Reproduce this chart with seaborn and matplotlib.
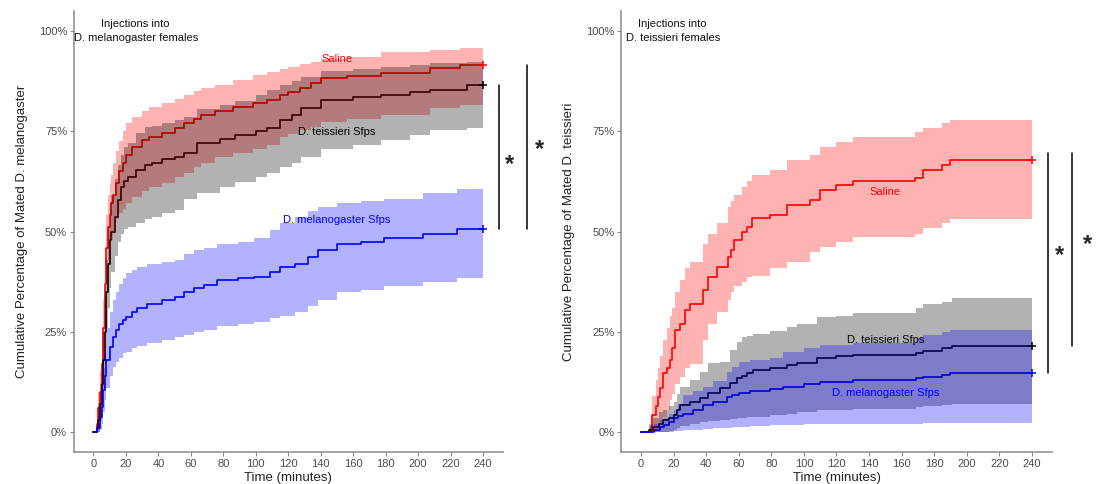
import numpy as np
import pandas as pd
import matplotlib
matplotlib.use("Agg")
import matplotlib.pyplot as plt
import seaborn as sns

# ---------------- data: cumulative % mated (estimate, lower CI, upper CI) ----------------
groups = ["Saline", "D. teissieri Sfps", "D. melanogaster Sfps"]
colors = {"Saline": "#FF0000", "D. teissieri Sfps": "#000000", "D. melanogaster Sfps": "#0000FF"}

# Injections into D. melanogaster females
mel_saline_t = [0, 2, 3, 4, 5, 6, 7, 8, 9, 10, 11, 12, 14, 16, 18, 20, 24, 30, 34, 42, 50, 56, 62, 66,
                75, 86, 98, 107, 115, 120, 127, 134, 140, 156, 177, 207, 226, 240]
mel_saline_est = [0, 2, 6, 10, 17, 26, 37, 46, 51, 54, 57, 59, 62, 65, 67, 69, 71, 72.8, 73.5, 74.5, 75.7,
                  77, 78, 79, 80, 81, 82, 82.8, 84, 84.7, 85.7, 87, 88.2, 88.8, 89.5, 90.7, 91.5, 91.5]
mel_saline_lo = [0, 0, 2, 5, 11, 19, 29, 38, 43, 46, 48, 50, 53, 54.5, 55.5, 57, 58.5, 60, 61, 62, 63.5,
                 64.5, 66, 67, 68.5, 69.5, 70.5, 71.5, 73.5, 74.3, 75.3, 76, 77.2, 78, 79, 80.8, 81.5, 81.5]
mel_saline_hi = [0, 4, 10, 15, 23, 33, 44, 54, 59, 62, 64, 67, 70, 72.5, 75, 77, 78.6, 80, 81, 82, 83,
                 84, 85, 85.7, 86.5, 87.8, 89, 89.8, 90.5, 91, 91.9, 92.3, 93, 93.6, 94.8, 95.3, 95.7, 95.7]

mel_teis_t = [0, 2, 3, 4, 5, 6, 7, 8, 9, 10, 11, 13, 15, 17, 19, 21, 26, 32, 36, 42, 50, 56, 64, 78,
              87, 100, 107, 115, 122, 128, 140, 160, 177, 195, 207, 230, 240]
mel_teis_est = [0, 1, 3, 7, 12, 18, 25, 35, 42, 48, 50, 53.7, 57.9, 61, 62.5, 63.7, 65.3, 66.6, 67, 68.2,
                68.7, 69.5, 72, 73, 74, 75, 75.7, 77.8, 79, 80.7, 82.8, 83.5, 84, 84.7, 85.3, 86.5, 86.5]
mel_teis_lo = [0, 0, 0, 3, 6, 11, 17, 26, 31, 36, 40, 44, 47.5, 49.5, 50.5, 51, 52, 53.2, 53.7, 54.5,
               55.4, 58, 59.5, 61, 62.3, 63.5, 64.5, 66, 67, 68.5, 70.5, 71.5, 72.8, 74, 75.3, 75.7, 75.7]
mel_teis_hi = [0, 3, 7, 12, 18, 25, 33, 43, 51, 57, 59, 63, 66.5, 69, 71, 72, 74.5, 76, 76.3, 77, 77.8,
               78.5, 80.5, 81.5, 82.5, 84, 85.3, 86.5, 87.5, 88.5, 90, 90.5, 91, 91.5, 92, 92.3, 92.3]

mel_mel_t = [0, 2, 4, 5, 6, 7, 8, 10, 12, 14, 16, 18, 20, 24, 27, 33, 42, 50, 56, 62, 68, 76, 89, 99,
             109, 115, 124, 132, 138, 150, 165, 179, 203, 224, 240]
mel_mel_est = [0, 1, 3.8, 6.3, 10.5, 14, 18, 21.3, 23.8, 25.5, 27, 28, 28.7, 29.8, 30.8, 32, 32.9, 33.7,
               35, 36, 36.7, 37.9, 38.3, 38.7, 40, 41.2, 42, 43.7, 45.4, 47, 47.5, 48.3, 49.5, 50.5, 50.5]
mel_mel_lo = [0, 0, 0.5, 2, 5, 8, 11, 14, 16.3, 17.5, 18.5, 19.6, 20, 21, 21.5, 22.3, 22.9, 23.7, 24.2,
              25, 25.5, 26.5, 27, 27.5, 28.5, 29, 30, 31.5, 33, 35, 35.4, 36.5, 37.5, 38.4, 38.4]
mel_mel_hi = [0, 2, 7, 10.5, 16, 20, 26, 30, 33, 35, 37, 38.5, 39.6, 40.5, 41.2, 42, 42.3, 43, 44.5,
              45.5, 46, 47, 47.5, 48.5, 50.4, 52, 53.5, 55, 56, 57, 57.5, 58, 59.5, 60.7, 60.7]

# Injections into D. teissieri females
tei_saline_t = [0, 6, 7, 9, 10.6, 12, 13.7, 16, 17.8, 19, 20.9, 24, 27, 30, 38, 41, 46.5, 53.6, 55, 57,
                62, 65, 68, 79, 89.4, 103.7, 110, 120, 130, 168, 173, 184.6, 190, 240]
tei_saline_est = [0, 1.3, 4.2, 6.5, 8.8, 11, 14.6, 16, 18, 21, 25.4, 27, 30.4, 32, 35.4, 38.7, 41.2, 43.7,
                  45.4, 47.9, 50, 51.2, 53.3, 54.1, 56.6, 57.9, 60.3, 61.6, 62.5, 63.3, 65.3, 66.6, 67.8, 67.8]
tei_saline_lo = [0, 0, 0, 0.5, 1.5, 2.5, 3.8, 5.5, 7.9, 9.5, 12, 13.8, 16, 17, 23, 27, 30, 33, 35, 36.5,
                 37.5, 38.7, 39, 40.8, 42.5, 45, 46.2, 47.5, 48.7, 49.5, 50.8, 52, 53, 53]
tei_saline_hi = [0, 4, 9, 13, 16, 19, 23, 26, 29, 31, 35, 38, 41, 42.5, 47, 49.5, 52, 56.2, 57.5, 59,
                 61, 62.5, 64, 65.3, 67.8, 69, 71, 72.3, 73.6, 74.9, 75.7, 77, 77.8, 77.8]

tei_teis_t = [0, 5, 7.5, 11, 13.7, 17, 20, 22, 24, 30, 36, 41.3, 48.5, 54.6, 58.7, 62, 65, 69, 79, 89.4,
              96, 108, 120, 130, 169, 173, 185, 191, 240]
tei_teis_est = [0, 0.6, 1.2, 2, 3, 3.6, 4.2, 5.5, 6.7, 7.5, 8.4, 9.6, 10.9, 12.1, 13.4, 14, 14.6, 15.5,
                15.9, 16.7, 17.1, 18.4, 19, 19.3, 19.8, 20.3, 20.9, 21.5, 21.5]
tei_teis_lo = [0, 0, 0, 0, 0, 0.3, 0.5, 1, 1.5, 2, 2.5, 2.8, 3, 3.3, 3.5, 3.6, 3.8, 3.8, 4.2, 4.6, 5,
               5.5, 5.5, 5.8, 6.3, 6.5, 6.8, 7, 7]
tei_teis_hi = [0, 2, 3.5, 5, 5.5, 6.5, 7.5, 9.5, 11.3, 13, 15, 17.1, 17.5, 20.4, 22.5, 23.8, 24, 24.5,
               25.3, 26.3, 27, 28.7, 29, 29.6, 30.8, 32, 32.5, 33.3, 33.3]

tei_mel_t = [0, 8, 12, 14, 17, 20, 23, 26, 32, 38, 44, 52.6, 56, 60, 67, 79, 87, 100, 110, 130, 169, 173,
             185, 190, 240]
tei_mel_est = [0, 0.6, 1.2, 1.8, 2.5, 3.4, 4, 4.6, 5.5, 6.7, 7.5, 8.8, 9.2, 9.6, 10.2, 10.6, 11.3, 12,
               12.5, 13, 13.4, 13.8, 14.2, 14.7, 14.7]
tei_mel_lo = [0, 0, 0, 0, 0, 0.2, 0.3, 0.4, 0.6, 0.8, 0.9, 1.1, 1.2, 1.3, 1.5, 1.7, 1.8, 2, 2, 2, 2.1,
              2.2, 2.2, 2.2, 2.2]
tei_mel_hi = [0, 2, 3, 3.4, 4.5, 5.5, 7, 9.2, 10.2, 11.3, 12.8, 15, 16.2, 17.5, 18, 18.5, 20, 21, 21.7,
              22.1, 23.4, 24.2, 25, 25.4, 25.4]

panels = [
    {
        "title": "Injections into\nD. melanogaster females",
        "title_x": 26,
        "ylabel": "Cumulative Percentage of Mated D. melanogaster",
        "curves": {
            "Saline": (mel_saline_t, mel_saline_est, mel_saline_lo, mel_saline_hi),
            "D. teissieri Sfps": (mel_teis_t, mel_teis_est, mel_teis_lo, mel_teis_hi),
            "D. melanogaster Sfps": (mel_mel_t, mel_mel_est, mel_mel_lo, mel_mel_hi),
        },
        "labels": {"Saline": 93, "D. teissieri Sfps": 74.8, "D. melanogaster Sfps": 52.9},
        # (x, y0, y1) significance brackets and star positions
        "brackets": [(250, 50.5, 86.5), (267, 50.5, 91.5)],
        "stars": [(256, 66.7), (274.5, 70.5)],
    },
    {
        "title": "Injections into\nD. teissieri females",
        "title_x": 19.5,
        "ylabel": "Cumulative Percentage of Mated D. teissieri",
        "curves": {
            "Saline": (tei_saline_t, tei_saline_est, tei_saline_lo, tei_saline_hi),
            "D. teissieri Sfps": (tei_teis_t, tei_teis_est, tei_teis_lo, tei_teis_hi),
            "D. melanogaster Sfps": (tei_mel_t, tei_mel_est, tei_mel_lo, tei_mel_hi),
        },
        "labels": {"Saline": 59.9, "D. teissieri Sfps": 22.9, "D. melanogaster Sfps": 9.8},
        "brackets": [(250, 14.7, 69.5), (264.5, 21.5, 69.5)],
        "stars": [(257, 44), (274, 46.8)],
    },
]

# ---------------- style ----------------
sns.set_theme(style="ticks")
plt.rcParams["font.family"] = ["Liberation Sans", "DejaVu Sans"]
plt.rcParams["axes.edgecolor"] = "#8a8a8a"
plt.rcParams["xtick.color"] = "#8a8a8a"
plt.rcParams["ytick.color"] = "#8a8a8a"

fig = plt.figure(figsize=(10.96, 4.84), dpi=100)
W, H = 1096, 484
axes_px = [(74, 502.6), (621.4, 1051.5)]
bottom_px, top_px = 452, 11

for (x0, x1), panel in zip(axes_px, panels):
    ax = fig.add_axes([x0 / W, 1 - bottom_px / H, (x1 - x0) / W, (bottom_px - top_px) / H])

    rows = []
    for g in groups:
        t, est, lo, hi = panel["curves"][g]
        for ti, ei in zip(t, est):
            rows.append({"time": ti, "pct": ei, "group": g})
    df = pd.DataFrame(rows)

    # step lines underneath the confidence ribbons
    sns.lineplot(data=df, x="time", y="pct", hue="group", hue_order=groups, palette=colors,
                 estimator=None, drawstyle="steps-post", linewidth=1.2, legend=False, ax=ax, zorder=1.5)

    for k, g in enumerate(groups):
        t, est, lo, hi = panel["curves"][g]
        ax.fill_between(t, lo, hi, step="post", color=colors[g], alpha=0.3, linewidth=0, zorder=2 + 0.1 * k)
        ax.plot([t[-1]], [est[-1]], marker="+", color=colors[g], markersize=6, mew=1.1, zorder=3)
        ax.text(150, panel["labels"][g], g, color=colors[g], fontsize=8, ha="center", va="center", zorder=4)

    ax.text(panel["title_x"], 100, panel["title"], fontsize=8, ha="center", va="center",
            color="#111111", linespacing=1.5)

    for bx, y0, y1 in panel["brackets"]:
        ax.plot([bx, bx], [y0, y1], color="black", linewidth=1.1, clip_on=False)
    for sx, sy in panel["stars"]:
        ax.text(sx, sy, "*", fontsize=17, fontweight="bold", ha="center", va="center", clip_on=False)

    ax.set_xlim(-12, 252)
    ax.set_ylim(-5, 105)
    ax.set_xticks(np.arange(0, 241, 20))
    ax.set_yticks([0, 25, 50, 75, 100])
    ax.set_yticklabels(["0%", "25%", "50%", "75%", "100%"])
    ax.tick_params(axis="both", labelsize=8, labelcolor="#4d4d4d", length=3, width=0.8, pad=2)
    ax.set_xlabel("Time (minutes)", fontsize=9.5, color="#222222", labelpad=2)
    ax.set_ylabel(panel["ylabel"], fontsize=9.5, color="#222222", labelpad=8)
    sns.despine(ax=ax)
    for s in ("left", "bottom"):
        ax.spines[s].set_linewidth(1.1)

fig.savefig("out.png", dpi=100)
